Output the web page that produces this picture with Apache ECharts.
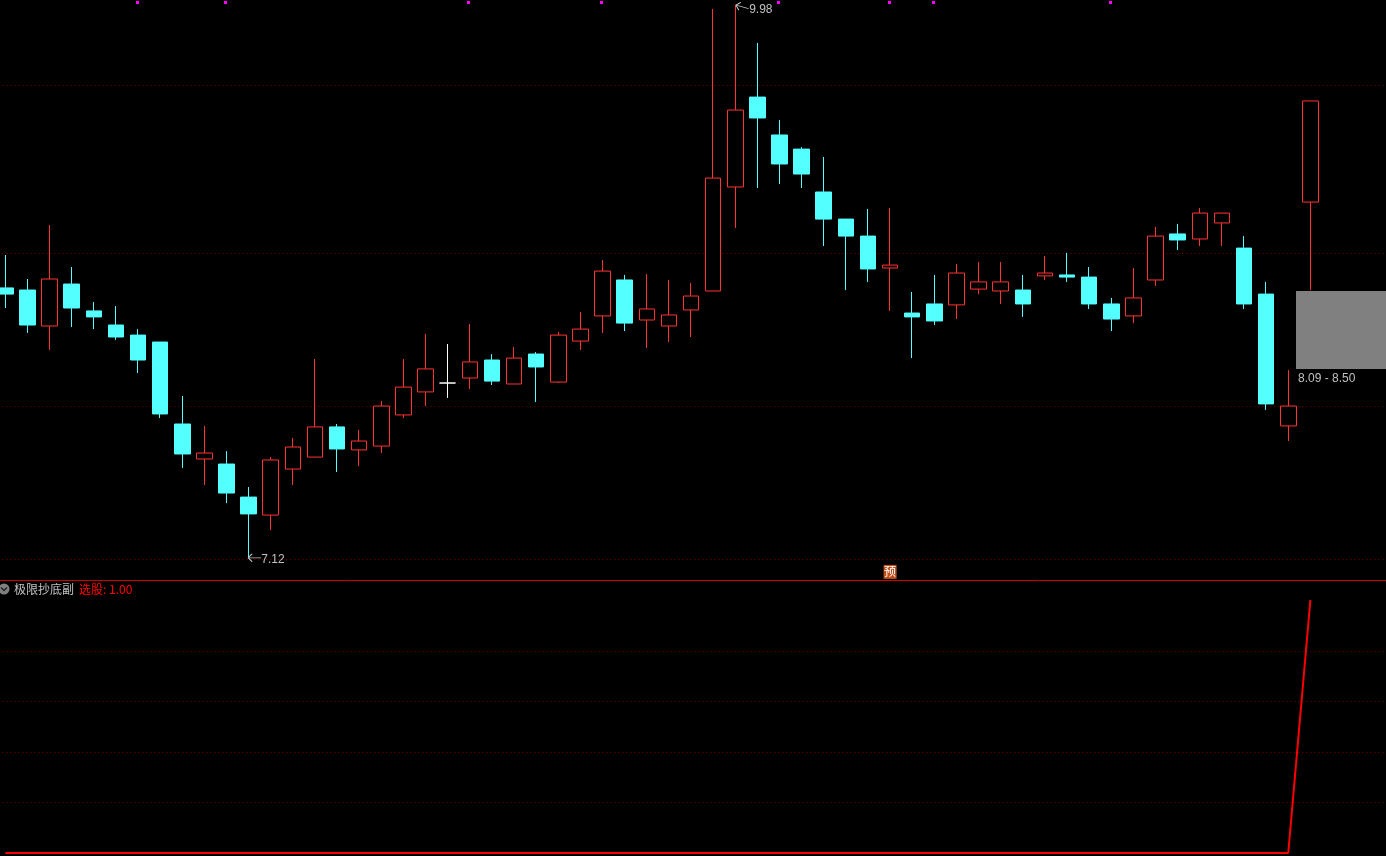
<!DOCTYPE html>
<html>
<head>
<meta charset="utf-8">
<title>极限抄底副</title>
<style>
	html, body { margin: 0; padding: 0; background: #000; }
	#chart { width: 1386px; height: 856px; }
</style>
<script src="https://cdn.jsdelivr.net/npm/echarts@6/dist/echarts.min.js"></script>
</head>
<body>
<div id="chart"></div>
<script>
// price pane
const opens = [
	8.516, 8.505, 8.319, 8.536, 8.397, 8.324, 8.272, 8.236, 7.812, 7.631,
	7.605, 7.434, 7.341, 7.579, 7.641, 7.797, 7.678, 7.698, 7.859, 7.978,
	8.024, 8.050, 8.143, 8.019, 8.174, 8.029, 8.241, 8.371, 8.557, 8.350,
	8.319, 8.402, 8.500, 9.038, 9.503, 9.307, 9.234, 9.012, 8.872, 8.784,
	8.619, 8.386, 8.433, 8.428, 8.510, 8.500, 8.505, 8.578, 8.583, 8.572,
	8.433, 8.371, 8.557, 8.795, 8.769, 8.852, 8.722, 8.484, 7.802, 8.960,
];
const closes = [
	8.484, 8.324, 8.562, 8.412, 8.366, 8.262, 8.143, 7.864, 7.657, 7.662,
	7.455, 7.347, 7.626, 7.693, 7.797, 7.683, 7.724, 7.905, 8.003, 8.097,
	8.024, 8.133, 8.034, 8.153, 8.107, 8.272, 8.303, 8.603, 8.334, 8.407,
	8.376, 8.474, 9.084, 9.436, 9.395, 9.157, 9.105, 8.872, 8.784, 8.614,
	8.634, 8.366, 8.345, 8.593, 8.547, 8.547, 8.433, 8.593, 8.572, 8.433,
	8.355, 8.464, 8.784, 8.764, 8.903, 8.903, 8.433, 7.916, 7.905, 9.483,
];
const lows = [
	8.412, 8.283, 8.195, 8.314, 8.303, 8.247, 8.076, 7.843, 7.585, 7.497,
	7.403, 7.12, 7.264, 7.497, 7.641, 7.564, 7.595, 7.662, 7.843, 7.905,
	7.947, 7.993, 8.014, 8.019, 7.926, 8.024, 8.195, 8.283, 8.293, 8.205,
	8.236, 8.262, 8.500, 8.826, 9.033, 9.053, 9.033, 8.733, 8.505, 8.547,
	8.397, 8.153, 8.324, 8.355, 8.484, 8.433, 8.366, 8.557, 8.547, 8.407,
	8.293, 8.334, 8.526, 8.712, 8.733, 8.733, 8.407, 7.885, 7.724, 8.505,
];
const highs = [
	8.686, 8.562, 8.841, 8.624, 8.443, 8.422, 8.303, 8.236, 7.957, 7.802,
	7.672, 7.486, 7.641, 7.740, 8.148, 7.812, 7.781, 7.931, 8.148, 8.278,
	8.226, 8.329, 8.174, 8.210, 8.184, 8.288, 8.391, 8.660, 8.583, 8.588,
	8.557, 8.541, 9.959, 9.98, 9.783, 9.384, 9.245, 9.193, 8.872, 8.924,
	8.929, 8.495, 8.583, 8.640, 8.650, 8.650, 8.583, 8.681, 8.697, 8.624,
	8.464, 8.619, 8.831, 8.847, 8.929, 8.903, 8.784, 8.547, 8.091, 9.483,
];
const priceGridLines = [9.563, 8.694, 7.903, 7.111];
const signalIndexes = [6, 10, 21, 27, 35, 40, 42, 50];
const signalLevel = 9.992;
const rangeBox = [58, 8.097, 8.5];
const rangeLabel = "8.09 - 8.50";

// indicator pane
const pickValues = [
	0, 0, 0, 0, 0, 0, 0, 0, 0, 0,
	0, 0, 0, 0, 0, 0, 0, 0, 0, 0,
	0, 0, 0, 0, 0, 0, 0, 0, 0, 0,
	0, 0, 0, 0, 0, 0, 0, 0, 0, 0,
	0, 0, 0, 0, 0, 0, 0, 0, 0, 0,
	0, 0, 0, 0, 0, 0, 0, 0, 0, 1,
];
const pickGridLines = [0.7964, 0.5988, 0.3972, 0.1996];

// the axis runs on for 3 empty slots past the last candle
const categories = Array.from({ length: 63 }, (_, i) => String(i + 1));

const RED = "#ff3232";
const CYAN = "#54ffff";
const GRAY_TEXT = "#c0c0c0";
const FONT = '"Liberation Sans", "Noto Sans CJK SC", sans-serif';
const ARROW = "path://M0 4L4 1M0 4L4 7M0 4L13 4";

function hiddenX(gridIndex) {
	return {
		type: "category",
		gridIndex: gridIndex,
		data: categories,
		axisTick: { show: false },
		axisLabel: { show: false },
		axisLine: { show: false },
		splitLine: { show: false },
	};
}

const gridLineStyle = { color: "#800000", width: 1, type: [1, 3] };

function renderRangeBox(params, api) {
	const band = api.size([1, 0])[0];
	const top = api.coord([api.value(0), api.value(2)]);
	const bottom = api.coord([api.value(0), api.value(1)]);
	const left = Math.round(top[0] + band * 0.35);
	const right = api.coord([62, api.value(2)])[0] + band / 2;
	return {
		type: "group",
		children: [
			{
				type: "rect",
				shape: { x: left, y: top[1], width: right - left, height: bottom[1] - top[1] },
				style: { fill: "#808080" },
			},
			{
				type: "text",
				x: left + 2,
				y: bottom[1] + 10,
				style: {
					text: rangeLabel,
					fill: GRAY_TEXT,
					font: "12px " + FONT,
					verticalAlign: "middle",
				},
			},
		],
	};
}

// snapped to whole pixels so the small squares stay sharp
function renderSignal(params, api) {
	const point = api.coord([api.value(0), api.value(1)]);
	return {
		type: "rect",
		shape: { x: Math.round(point[0] - 2.5), y: Math.round(point[1] - 1.5), width: 3, height: 3 },
		style: { fill: "#ff00ff" },
	};
}

const chart = echarts.init(document.getElementById("chart"), null, { renderer: "canvas" });

chart.setOption({
	animation: false,
	backgroundColor: "#000",
	title: {
		text: "{name|极限抄底副} {pick|选股: 1.00}",
		left: 14,
		top: 580,
		padding: 0,
		textStyle: {
			fontWeight: "normal",
			rich: {
				name: { color: GRAY_TEXT, fontSize: 12, fontWeight: "normal", fontFamily: '"Noto Sans CJK SC"' },
				pick: { color: "#ff0000", fontSize: 12, fontWeight: "normal", fontFamily: '"Noto Sans CJK SC"' },
			},
		},
	},
	graphic: [
		{
			type: "line",
			shape: { x1: 0, y1: 580.5, x2: 1386, y2: 580.5 },
			style: { stroke: "#cc0000", lineWidth: 1 },
		},
		{ type: "circle", shape: { cx: 4, cy: 589, r: 5.5 }, style: { fill: "#808080" } },
		{
			type: "polyline",
			shape: { points: [[1, 587.5], [4, 590.5], [7, 587.5]] },
			style: { stroke: "#222", lineWidth: 1.5, fill: null },
		},
	],
	grid: [
		{ left: -5.76, top: 1, width: 1393.56, height: 580, outerBoundsMode: "none" },
		{ left: -5.76, top: 600, width: 1393.56, height: 253, outerBoundsMode: "none" },
	],
	xAxis: [hiddenX(0), hiddenX(1)],
	yAxis: [
		{
			type: "value",
			gridIndex: 0,
			min: 7,
			max: 10,
			axisLine: { show: false },
			axisLabel: { show: false },
			axisTick: { show: false, customValues: priceGridLines },
			splitLine: { show: true, lineStyle: gridLineStyle },
		},
		{
			type: "value",
			gridIndex: 1,
			min: 0,
			max: 1,
			axisLine: { show: false },
			axisLabel: { show: false },
			axisTick: { show: false, customValues: pickGridLines },
			splitLine: { show: true, lineStyle: gridLineStyle },
		},
	],
	series: [
		{
			type: "candlestick",
			xAxisIndex: 0,
			yAxisIndex: 0,
			barWidth: 16,
			data: opens.map((open, i) => [open, closes[i], lows[i], highs[i]]),
			itemStyle: {
				color: "#000",
				color0: CYAN,
				borderColor: RED,
				borderColor0: CYAN,
				borderColorDoji: "#ffffff",
				borderWidth: 1,
			},
			markPoint: {
				silent: true,
				animation: false,
				data: [
					{
						coord: [11, 7.12],
						symbol: ARROW,
						symbolSize: [13, 8],
						symbolOffset: [6, 0],
						itemStyle: { color: "none", borderColor: GRAY_TEXT, borderWidth: 1 },
						label: {
							show: true,
							formatter: "7.12",
							position: "right",
							distance: 1,
							offset: [-4, 2],
							color: GRAY_TEXT,
							fontSize: 12,
							fontFamily: FONT,
						},
					},
					{
						coord: [33, 9.98],
						symbol: ARROW,
						symbolSize: [13, 8],
						symbolRotate: -15,
						symbolOffset: [7, 2],
						itemStyle: { color: "none", borderColor: GRAY_TEXT, borderWidth: 1 },
						label: {
							show: true,
							formatter: "9.98",
							position: "right",
							distance: 1,
							offset: [-5, 3],
							color: GRAY_TEXT,
							fontSize: 12,
							fontFamily: FONT,
						},
					},
					{
						coord: [40, 7.047],
						symbol: "rect",
						symbolSize: [13, 14],
						itemStyle: { color: "#c0501a" },
						label: {
							show: true,
							formatter: "预",
							position: "inside",
							color: "#fff",
							fontSize: 12,
							fontFamily: '"Noto Sans CJK SC"',
						},
					},
				],
			},
		},
		{
			type: "custom",
			xAxisIndex: 0,
			yAxisIndex: 0,
			silent: true,
			clip: false,
			renderItem: renderSignal,
			encode: { x: 0, y: 1 },
			data: signalIndexes.map((i) => [i, signalLevel]),
		},
		{
			type: "custom",
			xAxisIndex: 0,
			yAxisIndex: 0,
			silent: true,
			clip: false,
			renderItem: renderRangeBox,
			encode: { x: 0, y: [1, 2] },
			data: [rangeBox],
		},
		{
			type: "line",
			xAxisIndex: 1,
			yAxisIndex: 1,
			data: pickValues,
			symbol: "none",
			clip: false,
			lineStyle: { color: "#ff0000", width: 2 },
		},
	],
});
</script>
</body>
</html>
